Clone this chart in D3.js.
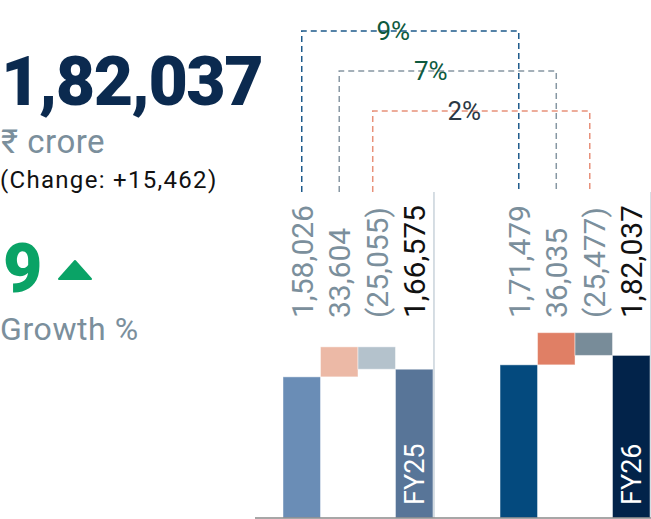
<!DOCTYPE html>
<html><head><meta charset="utf-8">
<script src="https://cdn.jsdelivr.net/npm/d3@7"></script>
<style>
html,body{margin:0;padding:0;background:#fff;}
svg{display:block;font-family:Roboto,"Noto Sans",sans-serif;}
</style></head>
<body>
<svg id="chart" width="651" height="519"></svg>
<script>
// ---- data ----
const years = ["FY25", "FY26"];
const steps = ["opening", "addition", "deduction", "closing"];
const openingValues = [158026, 171479];
const additionValues = [33604, 36035];
const deductionValues = [25055, 25477];
const closingValues = [166575, 182037];
const growthLabels = ["9%", "7%", "2%"];
const headlineValue = 182037;
const headlineUnit = "₹ crore";
const changeValue = 15462;
const growthValue = 9;
const growthCaption = "Growth %";

const barColors = {
  FY25: ["#6a8db6", "#ecb9a6", "#b4c2cc", "#587598"],
  FY26: ["#044a7e", "#e07f65", "#788c99", "#02234a"]
};
const connectorColors = ["#1d5a8b", "#8797a3", "#e8917a"];
const connectorTextColors = ["#0e5a3e", "#0e5a3e", "#2b3844"];

function fmtIN(n) {
  const s = String(Math.abs(n));
  if (s.length <= 3) return s;
  let last3 = s.slice(-3), rest = s.slice(0, -3);
  rest = rest.replace(/\B(?=(\d{2})+(?!\d))/g, ",");
  return rest + "," + last3;
}

const svg = d3.select("#chart");
const W = 651, H = 519;
const baseY = 518;

const y = d3.scaleLinear().domain([0, 580000]).range([baseY, 0]);
const xYear = d3.scaleBand().domain(years).range([283, 650]).paddingInner(0.309);
const xStep = d3.scaleBand().domain(steps).range([0, xYear.bandwidth()]);

// build waterfall rows
const rows = [];
years.forEach((yr, i) => {
  const o = openingValues[i], a = additionValues[i], d = deductionValues[i], c = closingValues[i];
  rows.push({year: yr, step: "opening", lo: 0, hi: o, value: o, label: fmtIN(o), color: barColors[yr][0]});
  rows.push({year: yr, step: "addition", lo: o, hi: o + a, value: a, label: fmtIN(a), color: barColors[yr][1]});
  rows.push({year: yr, step: "deduction", lo: o + a - d, hi: o + a, value: d, label: "(" + fmtIN(d) + ")", color: barColors[yr][2]});
  rows.push({year: yr, step: "closing", lo: 0, hi: c, value: c, label: fmtIN(c), color: barColors[yr][3]});
});
const cx = r => xYear(r.year) + xStep(r.step) + xStep.bandwidth() / 2;

// bars
svg.append("g").selectAll("rect").data(rows).join("rect")
  .attr("x", r => xYear(r.year) + xStep(r.step))
  .attr("width", xStep.bandwidth())
  .attr("y", r => y(r.hi))
  .attr("height", r => y(r.lo) - y(r.hi))
  .attr("fill", r => r.color)
  .attr("stroke", "rgba(255,255,255,0.45)")
  .attr("stroke-width", 1);

// separators after each year group
const labelBottom = 318;
svg.append("g").selectAll("line").data(years).join("line")
  .attr("x1", yr => xYear(yr) + xYear.bandwidth() + 1)
  .attr("x2", yr => xYear(yr) + xYear.bandwidth() + 1)
  .attr("y1", 192).attr("y2", baseY)
  .attr("stroke", "#c9d3db").attr("stroke-width", 1.5);

// bottom axis line
svg.append("line").attr("x1", 255).attr("x2", W).attr("y1", baseY).attr("y2", baseY)
  .attr("stroke", "#8a8a8a").attr("stroke-width", 1.5);

// value labels (rotated)
svg.append("g").selectAll("text").data(rows).join("text")
  .attr("transform", r => `translate(${cx(r)},${labelBottom}) rotate(-90)`)
  .attr("dy", "0.36em")
  .attr("font-size", 30)
  .attr("fill", r => r.step === "closing" ? "#111" : "#7b8f9c")
  .text(r => r.label);

// year labels inside closing bars
svg.append("g").selectAll("text").data(years).join("text")
  .attr("transform", yr => `translate(${xYear(yr) + xStep("closing") + xStep.bandwidth() / 2},505) rotate(-90)`)
  .attr("dy", "0.36em")
  .attr("font-size", 27)
  .attr("fill", "#fff")
  .text(yr => yr);

// growth connectors
const connectorLevels = [31, 71, 111];
const connectorOffsets = [0, 0, -4];
const connectorBottom = 192;
const connectors = growthLabels.map((lab, i) => {
  const x1 = xYear(years[0]) + xStep(steps[i]) + xStep.bandwidth() / 2 + connectorOffsets[i];
  const x2 = xYear(years[1]) + xStep(steps[i]) + xStep.bandwidth() / 2 + connectorOffsets[i];
  return {lab, x1, x2, yl: connectorLevels[i], color: connectorColors[i], tcolor: connectorTextColors[i]};
});
const cg = svg.append("g");
cg.selectAll("path").data(connectors).join("path")
  .attr("d", c => `M${c.x1},${connectorBottom}V${c.yl}H${c.x2}V${connectorBottom}`)
  .attr("fill", "none")
  .attr("stroke", c => c.color)
  .attr("stroke-width", 1.5)
  .attr("stroke-dasharray", "6,4");
cg.selectAll("text").data(connectors).join("text")
  .attr("x", c => (c.x1 + c.x2) / 2 - 17)
  .attr("y", c => c.yl)
  .attr("dy", "0.36em")
  .attr("text-anchor", "middle")
  .attr("font-size", 26)
  .attr("fill", c => c.tcolor)
  .text(c => c.lab);

// left summary
const left = svg.append("g");
left.append("text").attr("x", 1).attr("y", 105)
  .attr("font-size", 68).attr("font-weight", 900).attr("fill", "#0b2a4f")
  .attr("letter-spacing", -1.5)
  .text(fmtIN(headlineValue));
left.append("text").attr("x", 1).attr("y", 153)
  .attr("font-size", 33).attr("fill", "#7b8f9c")
  .attr("letter-spacing", 0.5)
  .text(headlineUnit);
left.append("text").attr("x", 0).attr("y", 188)
  .attr("font-size", 24).attr("fill", "#111")
  .attr("letter-spacing", 1.3)
  .text(`(Change: +${fmtIN(changeValue)})`);
left.append("text").attr("x", 3).attr("y", 292)
  .attr("font-size", 68).attr("font-weight", 900).attr("fill", "#0aa366")
  .text(growthValue);
left.append("path")
  .attr("d", "M59,279L75,261L91,279Z")
  .attr("fill", "#0aa366").attr("stroke", "#0aa366").attr("stroke-width", 2).attr("stroke-linejoin", "round");
left.append("text").attr("x", 0).attr("y", 340)
  .attr("font-size", 32).attr("fill", "#7b8f9c")
  .attr("letter-spacing", 0.6)
  .text(growthCaption);
</script>
</body></html>
